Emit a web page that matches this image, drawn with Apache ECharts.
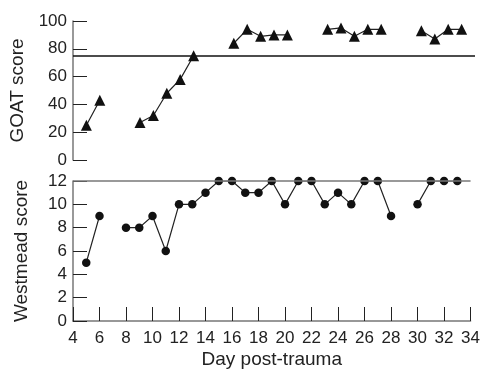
<!DOCTYPE html>
<html>
<head>
<meta charset="utf-8">
<script src="https://cdn.jsdelivr.net/npm/echarts@6/dist/echarts.min.js"></script>
<style>
  html, body { margin: 0; padding: 0; background: #fff; }
  #chart { width: 483px; height: 371px; }
</style>
</head>
<body>
<div id="chart"></div>
<script>
// days and scores, '-' = no measurement (breaks the line)
const goatDays   = [5, 6, 7, 9, 10, 11, 12, 13, 14, 16, 17, 18, 19, 20, 21, 23, 24, 25, 26, 27, 28, 30, 31, 32, 33];
const goatScores = [25, 43, '-', 27, 32, 48, 58, 75, '-', 84, 94, 89, 90, 90, '-', 94, 95, 89, 94, 94, '-', 93, 87, 94, 94];

const wmDays   = [5, 6, 7, 8, 9, 10, 11, 12, 13, 14, 15, 16, 17, 18, 19, 20, 21, 22, 23, 24, 25, 26, 27, 28, 29, 30, 31, 32, 33];
const wmScores = [5, 9, '-', 8, 8, 9, 6, 10, 10, 11, 12, 12, 11, 11, 12, 10, 12, 12, 10, 11, 10, 12, 12, 9, '-', 10, 12, 12, 12];

const goatRef = 75;
const wmRef = 12;

const chart = echarts.init(document.getElementById('chart'));
const font = 'Liberation Sans, Arial, sans-serif';
const axisGrey = '#777';
const tickFont = 17;
const nameFont = 19;

const pairs = (xs, ys) => xs.map((x, i) => [x, ys[i]]);

chart.setOption({
  animation: false,
  grid: [
    { left: 73, top: 21, width: 402, height: 139 },
    { left: 73, top: 181, width: 402, height: 140 }
  ],
  xAxis: [
    { gridIndex: 0, type: 'value', min: 4, max: 34, interval: 2, show: false },
    {
      gridIndex: 1, type: 'value', min: 4, max: 34, interval: 2,
      name: 'Day post-trauma', nameLocation: 'middle', nameGap: 29,
      nameTextStyle: { fontFamily: font, fontSize: nameFont, color: '#222' },
      axisLine: { lineStyle: { color: axisGrey, width: 1.5 } },
      axisTick: { inside: true, length: 14, lineStyle: { color: '#222', width: 1 } },
      axisLabel: { fontFamily: font, fontSize: tickFont, color: '#222', margin: 9 },
      splitLine: { show: false }
    }
  ],
  yAxis: [
    {
      gridIndex: 0, type: 'value', min: 0, max: 100, interval: 20,
      name: 'GOAT score', nameLocation: 'middle', nameGap: 42,
      nameTextStyle: { fontFamily: font, fontSize: nameFont, color: '#222' },
      axisLine: { show: true, lineStyle: { color: axisGrey, width: 1.5 } },
      axisTick: { show: true, inside: true, length: 14, lineStyle: { color: '#222', width: 1 } },
      axisLabel: { fontFamily: font, fontSize: tickFont, color: '#222', margin: 6 },
      splitLine: { show: false }
    },
    {
      gridIndex: 1, type: 'value', min: 0, max: 12, interval: 2,
      name: 'Westmead score', nameLocation: 'middle', nameGap: 42,
      nameTextStyle: { fontFamily: font, fontSize: nameFont, color: '#222' },
      axisLine: { show: true, lineStyle: { color: axisGrey, width: 1.5 } },
      axisTick: { show: true, inside: true, length: 14, lineStyle: { color: '#222', width: 1 } },
      axisLabel: { fontFamily: font, fontSize: tickFont, color: '#222', margin: 6 },
      splitLine: { show: false }
    }
  ],
  series: [
    {
      type: 'line', xAxisIndex: 0, yAxisIndex: 0,
      data: pairs(goatDays, goatScores),
      connectNulls: false,
      symbol: 'triangle', symbolSize: 11,
      itemStyle: { color: '#111' },
      lineStyle: { color: '#222', width: 1.2 },
      markLine: {
        silent: true, symbol: 'none', label: { show: false },
        lineStyle: { color: '#111', width: 1.5, type: 'solid' },
        data: [{ yAxis: goatRef }]
      }
    },
    {
      type: 'line', xAxisIndex: 1, yAxisIndex: 1,
      data: pairs(wmDays, wmScores),
      connectNulls: false,
      symbol: 'circle', symbolSize: 8.5,
      itemStyle: { color: '#111' },
      lineStyle: { color: '#222', width: 1.2 },
      markLine: {
        silent: true, symbol: 'none', label: { show: false },
        lineStyle: { color: axisGrey, width: 1.5, type: 'solid' },
        data: [{ yAxis: wmRef }]
      }
    }
  ]
});
</script>
</body>
</html>
